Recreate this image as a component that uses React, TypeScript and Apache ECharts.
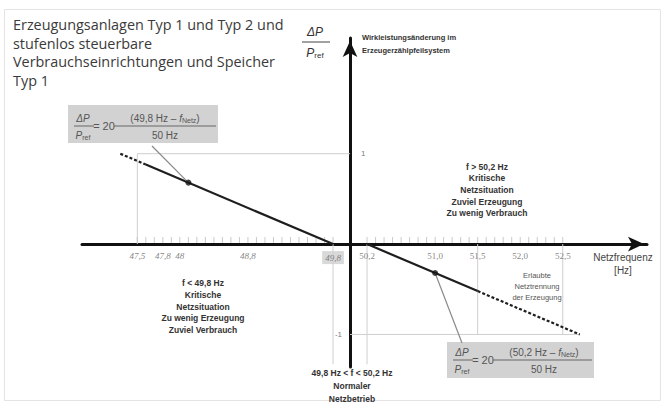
import React, { useEffect, useRef } from "react";
import * as echarts from "echarts";

// ---------- data ----------
const NOMINAL_HZ = 50;
const tickFreqs = [47.5, 47.8, 48, 48.8, 49.8, 50.2, 51.0, 51.5, 52.0, 52.5];
const tickLabels = ["47,5", "47,8", "48", "48,8", "49,8", "50,2", "51,0", "51,5", "52,0", "52,5"];
const yTickValues = [1, -1];
const yTickLabels = ["1", "-1"];

// P/Pref characteristic (frequency Hz, ΔP/Pref)
const lineLeftDashed = [[47.3, 1.0], [47.6, 0.88]];
const lineLeftSolid = [[47.6, 0.88], [49.8, 0]];
const lineRightSolid = [[50.2, 0], [51.5, -0.52]];
const lineRightDashed = [[51.5, -0.52], [52.7, -1.0]];
const markerPoints = [[48.1, 0.68], [51.0, -0.32]];

// light guide lines
const guideSegments = [
  [[47.5, 0], [47.5, 1]],
  [[47.5, 1], [50, 1]],
  [[49.8, 0], [49.8, -1.33]],
  [[50.2, 0], [50.2, -1.33]],
  [[50, -1], [52.7, -1]],
  [[51.5, 0], [51.5, -1]],
  [[52.5, 0], [52.5, -1]],
];

const titleLines = [
  "Erzeugungsanlagen Typ 1 und Typ 2 und",
  "stufenlos steuerbare",
  "Verbrauchseinrichtungen und Speicher",
  "Typ 1",
];
const yAxisNoteLines = ["Wirkleistungsänderung im", "Erzeugerzählpfeilsystem"];
const highFreqLines = ["f > 50,2 Hz", "Kritische", "Netzsituation", "Zuviel Erzeugung", "Zu wenig Verbrauch"];
const lowFreqLines = ["f < 49,8 Hz", "Kritische", "Netzsituation", "Zu wenig Erzeugung", "Zuviel Verbrauch"];
const normalLines = ["49,8 Hz < f < 50,2 Hz", "Normaler", "Netzbetrieb"];
const tripLines = ["Erlaubte", "Netztrennung", "der Erzeugung"];
const xAxisNameLines = ["Netzfrequenz", "[Hz]"];
const formulaLow = "49,8";
const formulaHigh = "50,2";

// ---------- helpers ----------
const dx = (f: number) => +(f - NOMINAL_HZ).toFixed(4);
const toXY = (pts: number[][]) => pts.map((p) => [dx(p[0]), p[1]]);

// minor tick marks every 0.1 Hz on both sides of the dead band
const minorTicks: number[] = [];
for (let i = 0; i <= 23; i++) {
  minorTicks.push(dx(47.5 + i * 0.1));
  minorTicks.push(dx(50.2 + i * 0.1));
}

const lineColor = "#1e1e1e";
const guideColor = "#cfcfcf";

function formulaGroup(x: number, y: number, w: number, h: number, num: string, rows: number[]) {
  const [r1, r2, r3] = rows;
  const font = { fontFamily: "Liberation Sans", fontSize: 10, fill: "#555" };
  return {
    type: "group",
    x,
    y,
    children: [
      { type: "rect", shape: { x: 0, y: 0, width: w, height: h }, style: { fill: "#d2d2d2" } },
      { type: "text", x: 15, y: r1, style: { ...font, text: "ΔP", fontStyle: "italic", align: "center", verticalAlign: "middle" } },
      { type: "line", shape: { x1: 6, y1: r2, x2: 26, y2: r2 }, style: { stroke: "#666", lineWidth: 1 } },
      {
        type: "text", x: 15, y: r3,
        style: {
          ...font, text: "{p|P}{s|ref}", align: "center", verticalAlign: "middle",
          rich: { p: { fontStyle: "italic", fontSize: 10, fill: "#555", fontFamily: "Liberation Sans" }, s: { fontSize: 7, fill: "#555", fontFamily: "Liberation Sans", padding: [5, 0, 0, 0] } },
        },
      },
      { type: "text", x: 36, y: r2, style: { ...font, fontSize: 11, text: "= 20", align: "center", verticalAlign: "middle" } },
      {
        type: "text", x: 97, y: r1,
        style: {
          ...font, text: "{n|(" + num + " Hz – }{f|f}{s|Netz}{n|)}", align: "center", verticalAlign: "middle",
          rich: {
            n: { fontSize: 10, fill: "#555", fontFamily: "Liberation Sans" },
            f: { fontSize: 10, fill: "#555", fontStyle: "italic", fontFamily: "Liberation Sans" },
            s: { fontSize: 7, fill: "#555", fontFamily: "Liberation Sans", padding: [5, 0, 0, 0] },
          },
        },
      },
      { type: "line", shape: { x1: 46, y1: r2, x2: w - 2, y2: r2 }, style: { stroke: "#666", lineWidth: 1 } },
      { type: "text", x: 97, y: r3, style: { ...font, text: "50 Hz", align: "center", verticalAlign: "middle" } },
    ],
  };
}

function centeredBlock(lines: string[], cx: number, top: number, lh: number, size: number, bold: boolean, color: string) {
  return {
    type: "text",
    x: cx,
    y: top,
    style: {
      text: lines.join("\n"),
      align: "center",
      verticalAlign: "top",
      fontFamily: "Liberation Sans",
      fontSize: size,
      fontWeight: bold ? "bold" : "normal",
      lineHeight: lh,
      fill: color,
    },
  };
}

export default function App() {
  const ref = useRef<HTMLDivElement>(null);

  useEffect(() => {
    document.body.style.margin = "0";
    if (!ref.current) return;
    const chart = echarts.init(ref.current, undefined, { renderer: "svg" });

    const guideSeries = guideSegments.map((seg) => ({
      type: "line",
      data: toXY(seg),
      symbol: "none",
      silent: true,
      z: 1,
      lineStyle: { color: guideColor, width: 1 },
    }));

    const mainLine = (pts: number[][], dashed: boolean) => ({
      type: "line",
      data: toXY(pts),
      symbol: "none",
      silent: true,
      z: 4,
      lineStyle: { color: lineColor, width: 2.2, type: dashed ? [3, 2] : "solid" },
    });

    const labelText = (i: number) => {
      const f = tickFreqs[i];
      if (Math.abs(f - 49.8) < 1e-6) return "{box|" + tickLabels[i] + "}";
      return f < NOMINAL_HZ ? "{it|" + tickLabels[i] + "}" : "{rm|" + tickLabels[i] + "}";
    };

    chart.setOption({
      animation: false,
      backgroundColor: "#ffffff",
      grid: { left: 82, right: 18, top: 38, bottom: 35, containLabel: false },
      xAxis: {
        type: "value",
        min: dx(46.85),
        max: dx(53.49),
        splitLine: { show: false },
        axisLine: {
          onZero: true,
          symbol: ["none", "arrow"],
          symbolSize: [11, 16],
          symbolOffset: [0, -3],
          lineStyle: { color: "#111", width: 3 },
        },
        axisTick: { show: false },
        axisLabel: { show: false },
      },
      yAxis: {
        type: "value",
        min: -1.36,
        max: 2.28,
        splitLine: { show: false },
        axisLine: {
          onZero: true,
          symbol: ["none", "arrow"],
          symbolSize: [11, 16],
          symbolOffset: [0, -3],
          lineStyle: { color: "#111", width: 3 },
        },
        axisTick: { show: false },
        axisLabel: { show: false },
      },
      series: [
        ...guideSeries,
        {
          type: "scatter",
          data: minorTicks.map((v) => [v, 0]),
          symbol: "rect",
          symbolSize: [1, 6],
          symbolOffset: [0, -4],
          silent: true,
          z: 2,
          itemStyle: { color: "#bdbdbd" },
        },
        mainLine(lineLeftDashed, true),
        mainLine(lineLeftSolid, false),
        mainLine(lineRightSolid, false),
        mainLine(lineRightDashed, true),
        {
          type: "scatter",
          data: toXY(markerPoints),
          symbolSize: 6,
          z: 6,
          silent: true,
          itemStyle: { color: "#111" },
        },
        {
          type: "scatter",
          symbolSize: 0,
          silent: true,
          z: 6,
          data: yTickValues.map((v, i) => ({
            value: [0, v],
            label: {
              show: true,
              formatter: yTickLabels[i],
              position: v > 0 ? "right" : "left",
              distance: v > 0 ? 11 : 8,
              fontFamily: "Liberation Sans",
              fontSize: 8,
              color: "#555",
            },
          })),
        },
        {
          type: "scatter",
          symbolSize: 0,
          silent: true,
          z: 6,
          data: tickFreqs.map((f, i) => ({
            value: [dx(f), 0],
            label: {
              show: true,
              formatter: labelText(i),
              position: "bottom",
              distance: 7,
              rich: {
                it: { fontFamily: "Liberation Serif", fontStyle: "italic", fontSize: 9, color: "#666" },
                rm: { fontFamily: "Liberation Serif", fontSize: 9, color: "#666" },
                box: { fontFamily: "Liberation Serif", fontStyle: "italic", fontSize: 9, color: "#666", backgroundColor: "#d0d0d0", padding: [2, 3, 2, 3] },
              },
            },
          })),
        },
      ],
    });

    const pL = chart.convertToPixel({ gridIndex: 0 }, toXY([markerPoints[0]])[0]) as number[];
    const pR = chart.convertToPixel({ gridIndex: 0 }, toXY([markerPoints[1]])[0]) as number[];

    chart.setOption({
      graphic: [
        { type: "rect", shape: { x: 4.5, y: 9.5, width: 656, height: 391 }, style: { fill: "none", stroke: "#e4e4e4", lineWidth: 1 }, silent: true },
        {
          type: "text", x: 13, y: 15,
          style: { text: titleLines.join("\n"), fontFamily: "Open Sans", fontSize: 14.4, lineHeight: 18.7, fill: "#3a3a3a", verticalAlign: "top" },
        },
        { type: "text", x: 315, y: 32, style: { text: "ΔP", fontFamily: "Liberation Sans", fontStyle: "italic", fontSize: 12, fill: "#333", align: "center", verticalAlign: "middle" } },
        { type: "line", shape: { x1: 302, y1: 42, x2: 330, y2: 42 }, style: { stroke: "#444", lineWidth: 1 } },
        {
          type: "text", x: 315, y: 53,
          style: {
            text: "{p|P}{s|ref}", align: "center", verticalAlign: "middle",
            rich: { p: { fontStyle: "italic", fontSize: 12, fill: "#333", fontFamily: "Liberation Sans" }, s: { fontSize: 8, fill: "#333", fontFamily: "Liberation Sans", padding: [5, 0, 0, 0] } },
          },
        },
        {
          type: "text", x: 362, y: 31,
          style: { text: yAxisNoteLines.join("\n"), fontFamily: "Liberation Sans", fontWeight: "bold", fontSize: 7.5, lineHeight: 13, fill: "#333", verticalAlign: "top" },
        },
        centeredBlock(highFreqLines, 487, 161, 11.6, 8.5, true, "#333"),
        centeredBlock(lowFreqLines, 203, 277, 11.8, 8.5, true, "#333"),
        centeredBlock(normalLines, 352, 366, 13, 8.5, true, "#333"),
        centeredBlock(tripLines, 537, 270, 11, 7.5, false, "#555"),
        centeredBlock(xAxisNameLines, 623, 251, 13, 10, false, "#444"),
        { type: "line", shape: { x1: pL[0], y1: pL[1], x2: 152, y2: 146 }, style: { stroke: "#8a8a8a", lineWidth: 1.2 }, z: 5 },
        { type: "line", shape: { x1: pR[0], y1: pR[1], x2: 462, y2: 343 }, style: { stroke: "#8a8a8a", lineWidth: 1.2 }, z: 5 },
        formulaGroup(68, 105, 150, 38, formulaLow, [13, 21, 30]),
        formulaGroup(447, 342, 147, 36, formulaHigh, [10, 18, 27]),
      ],
    });

    return () => chart.dispose();
  }, []);

  return <div ref={ref} style={{ width: 665, height: 402 }} />;
}
